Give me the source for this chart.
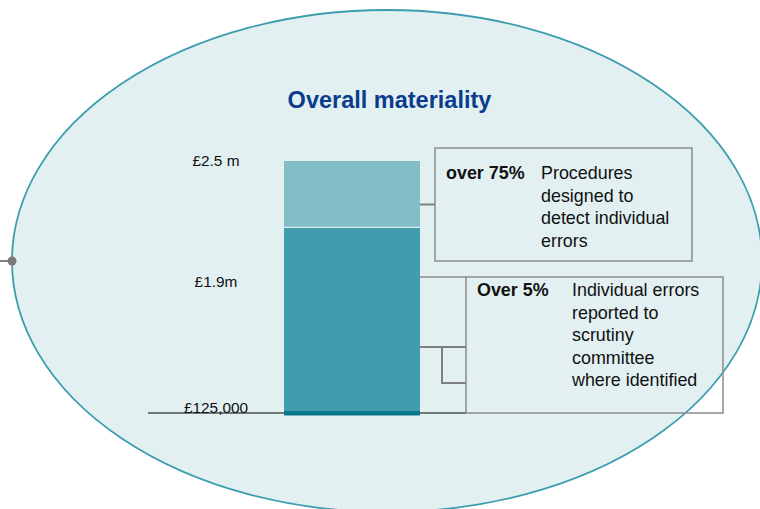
<!DOCTYPE html>
<html>
<head>
<meta charset="utf-8">
<script src="https://cdn.jsdelivr.net/npm/d3@7"></script>
<style>
  html, body { margin: 0; padding: 0; background: #fff; }
  .vis-container { width: 760px; height: 509px; }
  svg { display: block; font-family: "Liberation Sans", Arial, sans-serif; }
</style>
</head>
<body>
<div id="chart" class="vis-container"></div>
<script>
// values
const category = "Overall materiality";
const segmentFrom = [125000, 1875000];
const segmentTo = [1875000, 2500000];
const tickValues = [2500000, 1900000, 125000];
const tickLabels = ["£2.5 m", "£1.9m", "£125,000"];
const thresholdTitles = ["over 75%", "Over 5%"];
const thresholdLines = [
  ["Procedures", "designed to", "detect individual", "errors"],
  ["Individual errors", "reported to", "scrutiny", "committee", "where identified"],
];

class VisMateriality {
  constructor(el) {
    this.el = el;
    this.setup();
    this.scaffold();
    this.render();
  }

  setup() {
    this.width = 760;
    this.height = 509;

    this.color = {
      bg: "#e2f0f2",
      ring: "#3c9dae",
      title: "#0b3b8c",
      segments: ["#419dae", "#83bdc8"],
      base: "#0a788c",
      box: "#8c8c8c",
      link: "#7f7f7f",
      text: "#111",
    };

    // diagram layout (not to scale in the original)
    this.barLeft = 284;
    this.barRight = 420;
    this.baselineLeft = 148;
    this.labelX = 216;
    this.boxes = [
      { x: 435, y: 148, w: 257, h: 113, textTop: 31 },
      { x: 466, y: 277, w: 257, h: 136, textTop: 19 },
    ];
    this.lineHeight = 22.5;

    this.x = d3
      .scaleBand()
      .domain([category])
      .range([this.barLeft, this.barRight])
      .padding(0);
    this.y = d3
      .scaleLinear()
      .domain([125000, 2500000])
      .range([413, 161]);
  }

  scaffold() {
    this.svg = d3
      .select(this.el)
      .append("svg")
      .attr("width", this.width)
      .attr("height", this.height)
      .attr("viewBox", [0, 0, this.width, this.height]);
  }

  render() {
    this.renderBackground();
    this.renderBar();
    this.renderTicks();
    this.renderBoxes();
    this.renderTitle();
  }

  renderBackground() {
    const cy = 261;
    this.svg
      .append("ellipse")
      .attr("cx", 387)
      .attr("cy", cy)
      .attr("rx", 375)
      .attr("ry", 251)
      .attr("fill", this.color.bg)
      .attr("stroke", this.color.ring)
      .attr("stroke-width", 1.8);

    this.svg
      .append("line")
      .attr("x1", 0)
      .attr("x2", 12)
      .attr("y1", cy)
      .attr("y2", cy)
      .attr("stroke", this.color.link)
      .attr("stroke-width", 2);
    this.svg
      .append("circle")
      .attr("cx", 12)
      .attr("cy", cy)
      .attr("r", 4.5)
      .attr("fill", "#7a7a7a");
  }

  renderBar() {
    const y0 = this.y(125000);

    this.svg
      .append("line")
      .attr("x1", this.baselineLeft)
      .attr("x2", this.boxes[1].x)
      .attr("y1", y0)
      .attr("y2", y0)
      .attr("stroke", "#000")
      .attr("stroke-width", 1);

    const segments = segmentFrom.map((d, i) => ({ from: d, to: segmentTo[i], i }));
    this.svg
      .append("g")
      .selectAll("rect")
      .data(segments)
      .join("rect")
      .attr("x", this.x(category))
      .attr("width", this.x.bandwidth())
      .attr("y", (d) => this.y(d.to))
      .attr("height", (d) => this.y(d.from) - this.y(d.to))
      .attr("fill", (d) => this.color.segments[d.i]);

    // thin light split between the two segments
    this.svg
      .append("line")
      .attr("x1", this.x(category))
      .attr("x2", this.x(category) + this.x.bandwidth())
      .attr("y1", this.y(segmentTo[0]))
      .attr("y2", this.y(segmentTo[0]))
      .attr("stroke", "#d9edf0")
      .attr("stroke-width", 1.2);

    this.svg
      .append("rect")
      .attr("x", this.x(category))
      .attr("width", this.x.bandwidth())
      .attr("y", y0 - 2)
      .attr("height", 4.5)
      .attr("fill", this.color.base);
  }

  renderTicks() {
    // the £1.9m label sits on the line that leads to the second box
    const labelY = [
      this.y(tickValues[0]) + 4.5,
      this.boxes[1].y + 9.5,
      this.y(tickValues[2]),
    ];
    this.svg
      .append("g")
      .selectAll("text")
      .data(tickLabels)
      .join("text")
      .attr("x", this.labelX)
      .attr("y", (d, i) => labelY[i])
      .attr("text-anchor", "middle")
      .attr("font-size", 15.4)
      .attr("fill", this.color.text)
      .text((d) => d);
  }

  renderBoxes() {
    const right = this.barRight;
    const [b1, b2] = this.boxes;

    const g = this.svg.append("g").attr("class", "boxes-g");

    g.selectAll("rect")
      .data(this.boxes)
      .join("rect")
      .attr("x", (d) => d.x)
      .attr("y", (d) => d.y)
      .attr("width", (d) => d.w)
      .attr("height", (d) => d.h)
      .attr("fill", "none")
      .attr("stroke", this.color.box)
      .attr("stroke-width", 1.5);

    // connectors
    const link = d3.path();
    link.moveTo(right, b1.y + b1.h / 2);
    link.lineTo(b1.x, b1.y + b1.h / 2);
    const bracket = d3.path();
    bracket.moveTo(right, b2.y + 70);
    bracket.lineTo(b2.x, b2.y + 70);
    bracket.moveTo(442, b2.y + 69);
    bracket.lineTo(442, b2.y + 106);
    bracket.lineTo(b2.x, b2.y + 106);
    g.append("path")
      .attr("d", link.toString() + bracket.toString())
      .attr("fill", "none")
      .attr("stroke", this.color.link)
      .attr("stroke-width", 2);
    g.append("line")
      .attr("x1", right)
      .attr("x2", b2.x)
      .attr("y1", b2.y)
      .attr("y2", b2.y)
      .attr("stroke", this.color.box)
      .attr("stroke-width", 1.5);

    const text = g
      .selectAll(".box-text")
      .data(this.boxes)
      .join("g")
      .attr("class", "box-text")
      .attr("transform", (d) => `translate(${d.x},${d.y + d.textTop})`)
      .attr("fill", this.color.text)
      .attr("font-size", 17.9);

    text
      .append("text")
      .attr("x", 11)
      .attr("font-weight", "bold")
      .text((d, i) => thresholdTitles[i]);

    text
      .append("text")
      .attr("x", 106)
      .selectAll("tspan")
      .data((d, i) => thresholdLines[i])
      .join("tspan")
      .attr("x", 106)
      .attr("y", (d, i) => i * this.lineHeight)
      .text((d) => d);
  }

  renderTitle() {
    this.svg
      .append("text")
      .attr("x", 389.5)
      .attr("y", 108)
      .attr("text-anchor", "middle")
      .attr("font-size", 23.5)
      .attr("font-weight", "bold")
      .attr("fill", this.color.title)
      .text(category);
  }
}

new VisMateriality(document.getElementById("chart"));
</script>
</body>
</html>
